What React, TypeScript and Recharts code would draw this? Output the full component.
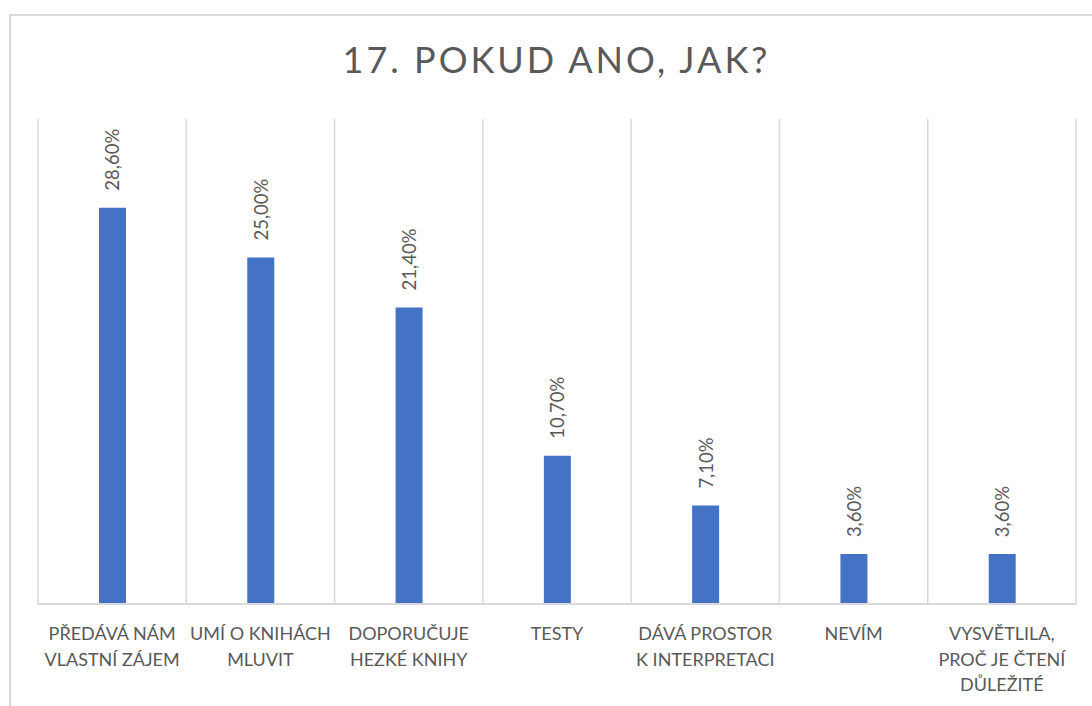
import React from "react";
import { BarChart, Bar, XAxis, YAxis, CartesianGrid, LabelList } from "recharts";

const categories = [
  "PŘEDÁVÁ NÁM\nVLASTNÍ ZÁJEM",
  "UMÍ O KNIHÁCH\nMLUVIT",
  "DOPORUČUJE\nHEZKÉ KNIHY",
  "TESTY",
  "DÁVÁ PROSTOR\nK INTERPRETACI",
  "NEVÍM",
  "VYSVĚTLILA,\nPROČ JE ČTENÍ\nDŮLEŽITÉ",
];
const values = [28.6, 25.0, 21.4, 10.7, 7.1, 3.6, 3.6];
const title = "17. POKUD ANO, JAK?";

const data = categories.map((c, i) => ({ name: c, value: values[i] }));

const FONT = "Lato, 'Noto Sans', sans-serif";
const GRAY = "#595959";

const fmt = (v: number) => v.toFixed(2).replace(".", ",") + "%";

const Tick = (props: any) => {
  const { x, y, payload } = props;
  const lines = String(payload.value).split("\n");
  return (
    <g>
      {lines.map((l, i) => (
        <text
          key={i}
          x={x}
          y={y + 28 + i * 25.5}
          textAnchor="middle"
          fill={GRAY}
          fontSize={18}
          fontFamily={FONT}
        >
          {l}
        </text>
      ))}
    </g>
  );
};

const ValLabel = (props: any) => {
  const { x, y, width, value } = props;
  const cx = x + width / 2;
  const ty = y - 17;
  return (
    <text
      x={cx}
      y={ty}
      transform={`rotate(-90, ${cx}, ${ty})`}
      textAnchor="start"
      dominantBaseline="central"
      fill={GRAY}
      fontSize={18.5}
      fontFamily={FONT}
    >
      {fmt(value)}
    </text>
  );
};

export default function App() {
  return (
    <div
      style={{
        position: "fixed",
        left: 0,
        top: 0,
        width: 1092,
        height: 706,
        overflow: "hidden",
        background: "#fff",
      }}
    >
      <div
        style={{
          position: "absolute",
          left: 9,
          top: 14,
          width: 1200,
          height: 800,
          borderLeft: "2px solid #d9d9d9",
          borderTop: "2px solid #d9d9d9",
          boxSizing: "border-box",
        }}
      />
      <div
        style={{
          position: "absolute",
          left: 0,
          width: 1113,
          top: 35,
          textAlign: "center",
          fontFamily: FONT,
          fontSize: 36,
          letterSpacing: 3,
          color: GRAY,
          lineHeight: "48px",
        }}
      >
        {title}
      </div>
      <div style={{ position: "absolute", left: 0, top: 0 }}>
        <BarChart
          width={1092}
          height={706}
          data={data}
          margin={{ top: 119, right: 16, left: 38, bottom: 12 }}
          barSize={27}
        >
          <CartesianGrid
            horizontal={false}
            stroke="#d9d9d9"
            strokeWidth={1.5}
            verticalCoordinatesGenerator={({ offset }: any) =>
              Array.from(
                { length: categories.length + 1 },
                (_, i) => offset.left + (i * offset.width) / categories.length
              )
            }
          />
          <XAxis
            dataKey="name"
            interval={0}
            height={90}
            tickLine={false}
            axisLine={{ stroke: "#d9d9d9", strokeWidth: 2 }}
            tick={<Tick />}
          />
          <YAxis hide domain={[0, 35]} />
          <Bar dataKey="value" fill="#4472C4" isAnimationActive={false}>
            <LabelList dataKey="value" content={<ValLabel />} />
          </Bar>
        </BarChart>
      </div>
    </div>
  );
}
